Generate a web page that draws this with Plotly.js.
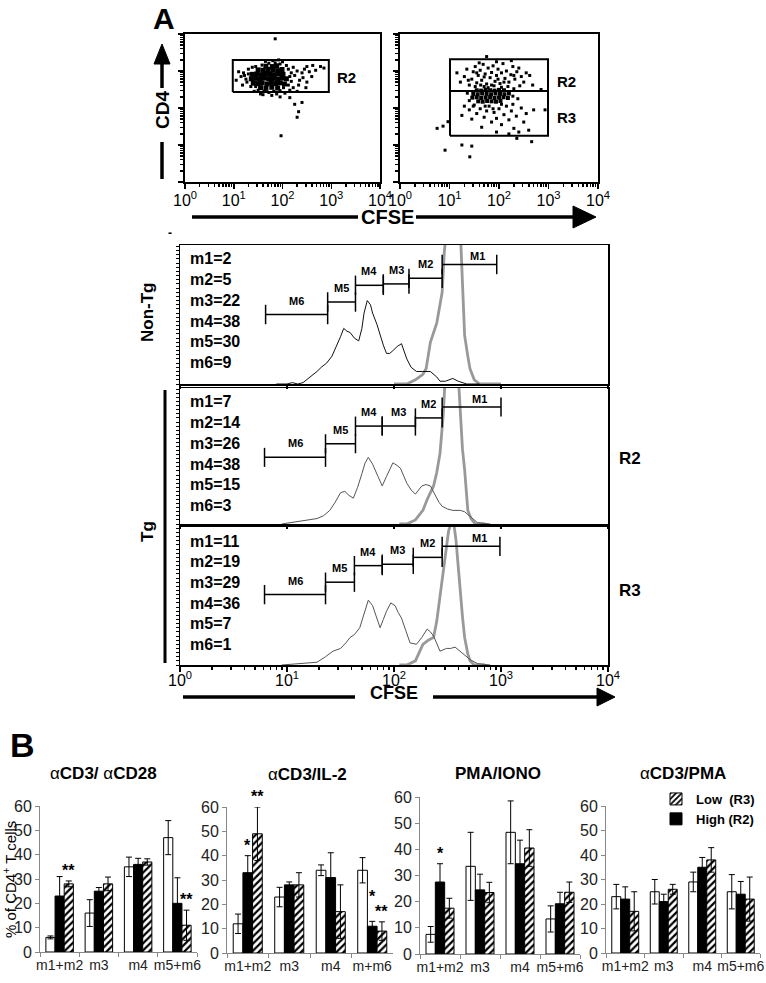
<!DOCTYPE html>
<html>
<head>
<meta charset="utf-8">
<script src="https://cdn.plot.ly/plotly-3.0.1.min.js"></script>
<style>html,body{margin:0;padding:0;background:#fff}</style>
</head>
<body>
<div id="fig" style="width:766px;height:983px"></div>
<script>
// ---------- data (CFSE / CD4 in log10 units) ----------
// dot plot, left (sorted cells, R2 only)
var dots1Core = [1.55,2.55, 1.66,2.53, 1.78,2.56, 1.90,2.54,
  1.40,2.67, 1.49,2.66, 1.58,2.68, 1.68,2.65, 1.77,2.69, 1.86,2.66, 1.95,2.68, 2.04,2.65,
  1.36,2.79, 1.45,2.80, 1.54,2.78, 1.63,2.81, 1.72,2.79, 1.81,2.80, 1.90,2.78, 1.99,2.81, 2.08,2.79,
  1.38,2.91, 1.47,2.92, 1.56,2.90, 1.65,2.93, 1.74,2.91, 1.83,2.90, 1.92,2.92, 2.01,2.91,
  1.50,3.03, 1.60,3.02, 1.70,3.04, 1.80,3.03, 1.90,3.01, 1.99,3.04,
  1.66,3.13, 1.79,3.12, 1.88,3.14];
var dots1 = [1.15,2.85, 1.20,2.95, 1.25,2.78, 1.30,3.05, 1.27,2.70, 1.22,2.88, 1.30,2.92, 1.38,3.10, 1.45,3.12,
  2.12,3.05, 2.15,2.85, 2.18,2.95, 2.22,3.10, 2.25,2.88, 2.30,3.00, 2.18,2.72, 2.12,2.62, 2.08,3.15,
  1.95,3.19, 1.85,3.22, 1.72,3.21, 1.58,3.16, 1.45,2.58, 1.50,2.48, 1.62,2.45, 1.72,2.42, 1.82,2.45,
  1.95,2.47, 2.02,2.55, 1.35,2.58, 1.42,2.45, 1.88,2.38, 1.78,2.34, 1.95,2.30, 2.05,2.40, 2.15,2.48,
  2.22,2.55, 2.35,2.75, 2.40,2.95, 2.45,3.05, 2.50,3.12, 2.55,2.98, 2.62,3.15, 2.68,3.02, 2.78,3.12,
  2.85,3.08, 2.60,2.85, 2.42,2.82, 2.33,2.62, 2.50,2.70, 1.10,2.98, 1.05,2.75, 1.18,2.62, 1.80,3.28,
  1.92,3.30, 2.00,3.25, 1.65,3.26, 2.30,2.45, 1.60,2.36,
  1.85,3.87, 2.25,2.10, 2.40,2.15, 2.33,1.90, 2.30,1.75, 1.97,1.25, 2.15,2.28, 1.55,2.38, 2.48,2.55];
// dot plot, right (R2 high / R3 low)
var dots2Core = [1.58,2.18, 1.67,2.17, 1.76,2.19, 1.85,2.18, 1.94,2.17, 2.03,2.19,
  1.46,2.28, 1.55,2.29, 1.64,2.27, 1.73,2.28, 1.82,2.29, 1.91,2.27, 2.00,2.28, 2.09,2.29, 2.18,2.27,
  1.48,2.38, 1.57,2.37, 1.66,2.39, 1.75,2.38, 1.84,2.37, 1.93,2.39, 2.02,2.38, 2.11,2.37, 2.20,2.39,
  1.55,2.48, 1.64,2.47, 1.73,2.49, 1.82,2.48, 1.91,2.47, 2.00,2.49, 2.10,2.48];
var dots2 = [1.15,2.95, 1.22,2.70, 1.30,2.85, 1.35,3.05, 1.40,2.62, 1.45,2.78, 1.48,2.98, 1.52,3.12,
  1.55,2.68, 1.58,2.88, 1.62,3.02, 1.65,2.75, 1.68,3.18, 1.72,2.92, 1.75,2.65, 1.78,3.08, 1.82,2.82,
  1.85,2.96, 1.88,3.14, 1.92,2.72, 1.95,2.88, 1.98,3.05, 2.02,2.66, 2.05,2.95, 2.08,3.20, 2.12,2.80,
  2.15,3.00, 2.20,2.70, 2.24,2.90, 2.28,3.12, 2.32,2.78, 2.36,2.98, 2.40,3.08, 2.45,2.85, 2.50,2.70,
  2.55,2.95, 2.62,2.88, 2.68,2.62, 1.38,2.75, 1.85,2.62, 2.18,2.58, 1.70,2.58, 2.42,2.60, 1.60,3.22,
  1.95,3.25, 2.25,3.28, 1.30,2.05, 1.40,1.95, 1.50,2.08, 1.55,1.85, 1.62,1.98, 1.70,1.75, 1.75,1.92,
  1.80,2.05, 1.85,1.62, 1.90,1.88, 1.95,1.72, 2.00,1.98, 2.05,1.55, 2.10,1.82, 2.15,2.05, 2.20,1.68,
  2.25,1.92, 2.30,1.45, 2.35,1.78, 2.45,2.00, 2.50,1.62, 2.55,1.85, 2.60,1.40, 2.70,1.95, 1.65,1.48,
  1.45,1.70, 1.25,1.80, 1.95,1.35, 2.40,1.35, 2.20,1.30, 2.28,2.10, 2.38,2.25,
  1.52,2.58, 1.63,2.62, 1.78,2.55, 1.90,2.60, 2.05,2.56, 2.30,2.52, 1.36,2.40, 1.40,2.20, 2.28,2.32,
  1.70,2.84, 1.98,2.78, 2.10,2.70, 1.55,2.95, 2.30,2.88, 1.48,2.05, 1.88,1.98, 2.05,2.10, 1.72,2.05,
  0.75,1.45, 0.87,1.51, 0.97,1.63, 0.91,0.86, 1.25,1.00, 1.45,0.97, 1.41,0.68, 1.75,3.39,
  2.93,1.95, 2.66,1.09, 2.36,1.18, 2.85,2.50];
// gates [xmin, xmax, ymin, ymax]
var gate1R2 = [0.98, 2.95, 2.43, 3.30];
var gate2R2 = [1.01, 2.99, 2.46, 3.32];
var gate2R3 = [1.01, 2.99, 1.25, 2.46];

// CFSE histograms: divided (thin) and control (thick) curves
var nonTgX = [0.90,1.00,1.05,1.10,1.15,1.20,1.24,1.28,1.32,1.37,1.42,1.47,1.50,1.53,1.56,1.59,1.63,1.67,1.70,1.72,1.75,1.78,1.80,1.84,1.87,1.90,1.93,1.96,1.99,2.03,2.07,2.10,2.12,2.16,2.21,2.27,2.34,2.40,2.43,2.48,2.52,2.55,2.60,2.68,2.80];
var nonTgY = [0,0,1,0,1,4,7,9,12,15,20,28,34,40,38,37,33,31,40,51,60,57,51,43,35,28,22,22,24,27,29,22,18,12,9,9,9,5,2,2,3,4,2,0,0];
var nonTgCtlX = [2.00,2.12,2.20,2.27,2.30,2.34,2.40,2.45,2.47,2.49,2.62,2.64,2.66,2.69,2.71,2.75,2.80,3.00];
var nonTgCtlY = [0,0,3,7,11,30,44,66,95,110,110,70,35,20,11,3,0,0];
var r2X = [0.95,1.03,1.15,1.28,1.34,1.40,1.45,1.50,1.54,1.58,1.62,1.66,1.70,1.73,1.76,1.80,1.85,1.89,1.93,1.99,2.03,2.06,2.12,2.16,2.20,2.23,2.26,2.30,2.34,2.38,2.42,2.45,2.50,2.55,2.62,2.66,2.72,2.78,2.90];
var r2Y = [0,1,2,4,6,10,16,23,24,21,19,27,37,45,49,44,35,28,35,45,43,41,30,25,22,25,28,29,28,22,16,13,11,10,10,9,5,1,0];
var r2CtlX = [2.05,2.12,2.20,2.27,2.31,2.34,2.37,2.40,2.43,2.46,2.48,2.60,2.62,2.64,2.66,2.69,2.72,2.76,2.85];
var r2CtlY = [0,0,3,10,18,23,28,38,52,80,110,110,80,55,40,10,4,0,0];
var r3X = [0.95,1.03,1.15,1.28,1.36,1.43,1.50,1.55,1.59,1.63,1.68,1.72,1.76,1.80,1.84,1.87,1.90,1.93,1.97,2.01,2.04,2.07,2.11,2.15,2.21,2.26,2.31,2.34,2.37,2.40,2.43,2.49,2.53,2.57,2.63,2.67,2.71,2.78,2.90];
var r3Y = [0,0.5,1,2,6,10,12,16,20,22,27,38,47,43,33,27,33,39,45,43,38,34,25,16,15,20,26,24,21,15,10,12,12,13,9,6,4,1,0];
var r3CtlX = [2.05,2.12,2.20,2.27,2.32,2.37,2.40,2.43,2.46,2.48,2.51,2.53,2.56,2.58,2.60,2.62,2.64,2.66,2.69,2.71,2.75,2.85];
var r3CtlY = [0,0,3,15,18,20,32,49,68,81,97,102,102,90,70,56,35,20,8,3,0,0];

// division gates M1..M6: start, end, marker level
var gateNames = ['M1','M2','M3','M4','M5','M6'];
var nonTgGateFrom = [2.45,2.14,1.90,1.64,1.38,0.80];
var nonTgGateTo   = [2.96,2.45,2.14,1.90,1.64,1.38];
var nonTgGateLv   = [86,76,72,71,59,50];
var r2GateFrom = [2.45,2.20,1.89,1.64,1.36,0.79];
var r2GateTo   = [3.00,2.45,2.20,1.89,1.64,1.36];
var r2GateLv   = [86,78,72,72,59,49];
var r3GateFrom = [2.45,2.18,1.89,1.63,1.36,0.79];
var r3GateTo   = [2.99,2.45,2.18,1.89,1.63,1.36];
var r3GateLv   = [86,78,73,72,60,51];
var nonTgPct = [2,5,22,38,30,9];
var r2Pct = [7,14,26,38,15,3];
var r3Pct = [11,19,29,36,7,1];

// panel B bars
var catsA = ['m1+m2','m3','m4','m5+m6'];
var catsB = ['m1+m2','m3','m4','m+m6'];
var stimTitles = ['α<b>CD3/ </b>α<b>CD28</b>', 'α<b>CD3/IL-2</b>', '<b>PMA/IONO</b>', 'α<b>CD3/PMA</b>'];
var nonTgBars = [[6,16,35,47], [12,23,34,34], [7.5,33.5,46.5,13.4], [23,25,29,25]];
var nonTgErr  = [[0.6,5.5,4,7], [4,4,2.2,5.2], [3,13,12,5], [5,5,4,7]];
var highBars  = [[23,25,36,20], [33,28,31,11], [27.5,24.5,34.5,19.2], [22,21,35,24]];
var highErr   = [[8,1.5,2.5,10.5], [7,1.2,10.2,2], [7,6,9,4.4], [5,3,4,5.2]];
var lowBars   = [[28,28,37,11], [49,28,17,9], [17.5,23.5,40.5,23.6], [17,26,38,22]];
var lowErr    = [[1.2,2.8,1.3,6.2], [11,5,11,3.8], [3.8,3.9,7,3.9], [8,2,5,9]];
var highStars = [['','','',''], ['*','','','*'], ['*','','',''], ['','','','']];
var lowStars  = [['**','','','**'], ['**','','','**'], ['','','',''], ['','','','']];

// ---------- layout helpers ----------
var F = 'Arial, "Liberation Sans", sans-serif';
var W = 766, H = 983;
function px(v) { return v / W; }
function py(v) { return 1 - v / H; }
function evens(a) { return a.filter(function (v, i) { return i % 2 === 0; }); }
function odds(a) { return a.filter(function (v, i) { return i % 2 === 1; }); }

var decades = [0, 1, 2, 3, 4];
var decadeText = decades.map(function (d) { return '10<sup>' + d + '</sup>'; });
var minorVals = [];
[0, 1, 2, 3].forEach(function (d) {
  for (var k = 2; k <= 9; k++) minorVals.push(d + Math.log10(k));
});

function logAxis(domain, labels, lw) {
  return {
    domain: domain, range: [0, 4], showgrid: false, zeroline: false,
    showline: true, mirror: true, linecolor: '#000', linewidth: lw,
    tickmode: 'array', tickvals: decades, ticktext: decadeText,
    showticklabels: labels, ticks: 'outside', ticklen: 5, tickwidth: 1.5, tickcolor: '#000',
    tickfont: {family: F, size: 16, color: '#000'},
    minor: {tickmode: 'array', tickvals: minorVals, ticks: 'outside', ticklen: 3, tickcolor: '#000'},
    fixedrange: true
  };
}

var traces = [];
var annotations = [];
var shapes = [];
var layout = {
  width: W, height: H, margin: {l: 0, r: 0, t: 0, b: 0},
  paper_bgcolor: '#fff', plot_bgcolor: '#fff',
  font: {family: F, color: '#000'},
  barmode: 'group', bargap: 0.3, bargroupgap: 0,
  showlegend: true,
  legend: {x: px(656), y: py(784), xanchor: 'left', yanchor: 'top',
           font: {family: F, size: 13, color: '#000'}, bgcolor: 'rgba(0,0,0,0)',
           tracegroupgap: 0, itemwidth: 30}
};

// ---------- A: dot plots ----------
layout.xaxis = logAxis([px(185), px(380)], true, 2);
layout.yaxis = logAxis([py(182), py(34)], false, 2);
layout.xaxis2 = logAxis([px(400), px(598)], true, 2);
layout.yaxis2 = logAxis([py(182), py(34)], false, 2);
layout.yaxis.anchor = 'x'; layout.xaxis.anchor = 'y';
layout.yaxis2.anchor = 'x2'; layout.xaxis2.anchor = 'y2';
layout.xaxis.ticklabelstandoff = -2; layout.xaxis2.ticklabelstandoff = -2;

function dotTrace(arr, size, xa, ya) {
  return {type: 'scatter', mode: 'markers', x: evens(arr), y: odds(arr), xaxis: xa, yaxis: ya,
          marker: {symbol: 'square', size: size, color: '#000', line: {width: 0}},
          showlegend: false, hoverinfo: 'skip'};
}
function gateTrace(g, xa, ya) {
  return {type: 'scatter', mode: 'lines', xaxis: xa, yaxis: ya,
          x: [g[0], g[1], g[1], g[0], g[0]], y: [g[2], g[2], g[3], g[3], g[2]],
          line: {color: '#000', width: 2}, showlegend: false, hoverinfo: 'skip'};
}
traces.push(dotTrace(dots1, 3, 'x', 'y'), dotTrace(dots1Core, 5, 'x', 'y'), gateTrace(gate1R2, 'x', 'y'));
traces.push(dotTrace(dots2, 3, 'x2', 'y2'), dotTrace(dots2Core, 4, 'x2', 'y2'),
            gateTrace(gate2R2, 'x2', 'y2'), gateTrace(gate2R3, 'x2', 'y2'));

function boldText(x, y, text, size, extra) {
  var a = {xref: 'paper', yref: 'paper', x: px(x), y: py(y), text: '<b>' + text + '</b>',
           xanchor: 'center', yanchor: 'middle',
           showarrow: false, font: {family: F, size: size, color: '#000'}};
  for (var k in extra) a[k] = extra[k];
  return a;
}
annotations.push(boldText(164, 19, 'A', 30));
annotations.push(boldText(346, 77, 'R2', 15));
annotations.push(boldText(566, 82, 'R2', 15));
annotations.push(boldText(566, 117, 'R3', 15));
annotations.push(boldText(162, 110, 'CD4', 19, {textangle: -90}));
annotations.push(boldText(387, 217, 'CFSE', 20));

function line(x0, y0, x1, y1, w) {
  return {type: 'line', xref: 'paper', yref: 'paper', x0: px(x0), y0: py(y0), x1: px(x1), y1: py(y1),
          line: {color: '#000', width: w}};
}
function tri(pts) {
  var d = 'M' + pts.map(function (p) { return px(p[0]) + ',' + py(p[1]); }).join(' L') + ' Z';
  return {type: 'path', xref: 'paper', yref: 'paper', path: d, fillcolor: '#000', line: {color: '#000', width: 1}};
}
shapes.push(line(162, 142, 162, 179, 3.5), line(162, 62, 162, 88, 3.5), tri([[162, 44], [154, 64], [170, 64]]));
shapes.push(line(192, 217, 358, 217, 3.5), line(416, 217, 574, 217, 3.5), tri([[596, 217], [573, 206], [573, 228]]));

// ---------- A: CFSE histograms ----------
var hist = [
  {xa: 'x3', ya: 'y3', top: 245, bot: 384, x: nonTgX, y: nonTgY, cx: nonTgCtlX, cy: nonTgCtlY,
   gf: nonTgGateFrom, gt: nonTgGateTo, gl: nonTgGateLv, pct: nonTgPct, thin: '#111'},
  {xa: 'x4', ya: 'y4', top: 388, bot: 524, x: r2X, y: r2Y, cx: r2CtlX, cy: r2CtlY,
   gf: r2GateFrom, gt: r2GateTo, gl: r2GateLv, pct: r2Pct, thin: '#555'},
  {xa: 'x5', ya: 'y5', top: 527, bot: 665, x: r3X, y: r3Y, cx: r3CtlX, cy: r3CtlY,
   gf: r3GateFrom, gt: r3GateTo, gl: r3GateLv, pct: r3Pct, thin: '#555'}
];
hist.forEach(function (h, i) {
  var n = i + 3;
  var xa = logAxis([px(180), px(608)], i === 2, 1.5);
  xa.anchor = 'y' + n;
  xa.ticklabelstandoff = -5;
  if (i < 2) { xa.minor = {ticks: ''}; xa.ticklen = 3; }
  layout['xaxis' + n] = xa;
  layout['yaxis' + n] = {domain: [py(h.bot), py(h.top)], range: [0, 100], anchor: 'x' + n,
    showgrid: false, zeroline: false, showline: true, mirror: true, linecolor: '#000', linewidth: 1.5,
    showticklabels: false, ticks: 'outside', ticklen: 3, tickwidth: 1, tickcolor: '#000',
    tickmode: 'linear', tick0: 0, dtick: 3, fixedrange: true};
  traces.push({type: 'scatter', mode: 'lines', x: h.cx, y: h.cy, xaxis: h.xa, yaxis: h.ya,
    line: {color: '#999', width: 2.8}, showlegend: false, hoverinfo: 'skip'});
  traces.push({type: 'scatter', mode: 'lines', x: h.x, y: h.y, xaxis: h.xa, yaxis: h.ya,
    line: {color: h.thin, width: 1}, showlegend: false, hoverinfo: 'skip'});
  var gx = [], gy = [];
  h.gf.forEach(function (s, j) {
    gx.push(s, h.gt[j], null); gy.push(h.gl[j], h.gl[j], null);
    annotations.push({xref: h.xa, yref: h.ya, x: (s + h.gt[j]) / 2, y: h.gl[j],
      xanchor: 'center', yanchor: 'bottom', xshift: j === 0 ? 8 : 0,
      yshift: j === 0 ? 0 : 6, text: '<b>' + gateNames[j] + '</b>', showarrow: false,
      font: {family: F, size: 11, color: '#000'}});
  });
  traces.push({type: 'scatter', mode: 'lines', x: gx, y: gy, xaxis: h.xa, yaxis: h.ya,
    line: {color: '#000', width: 1.5},
    error_y: {type: 'constant', value: 7, width: 0, thickness: 1.5, color: '#000'},
    showlegend: false, hoverinfo: 'skip'});
  h.pct.forEach(function (v, j) {
    annotations.push(boldText(188, h.top + 14 + j * 20.7, 'm' + (j + 1) + '=' + v, 16, {xanchor: 'left'}));
  });
});
annotations.push(boldText(147, 313, 'Non-Tg', 17, {textangle: -90}));
annotations.push(boldText(147, 532, 'Tg', 17, {textangle: -90}));
annotations.push(boldText(630, 458, 'R2', 17));
annotations.push(boldText(630, 590, 'R3', 17));
annotations.push(boldText(394, 693, 'CFSE', 18));
annotations.push(boldText(170, 233, '-', 12));
shapes.push(line(165, 390, 165, 663, 3));
shapes.push(line(183, 697, 355, 697, 3.5), line(433, 697, 598, 697, 3.5), tri([[615, 697], [597, 688], [597, 706]]));

// ---------- B: bar charts ----------
var barDom = [[40, 197, 806, 952], [227, 393, 807, 953], [420, 580, 797, 954], [606, 760, 806, 953]];
var titlePos = [[103, 773], [307, 774], [498, 773], [683, 773]];
annotations.push(boldText(22, 745, 'B', 34));
annotations.push({xref: 'paper', yref: 'paper', x: px(9), y: py(880), textangle: -90, showarrow: false,
  xanchor: 'center', yanchor: 'middle',
  text: '% of CD4<sup>+</sup> T cells', font: {family: F, size: 15, color: '#000'}});
barDom.forEach(function (d, p) {
  var n = p + 6, xa = 'x' + n, ya = 'y' + n;
  var cats = p === 1 ? catsB : catsA;
  layout['xaxis' + n] = {domain: [px(d[0]), px(d[1])], anchor: ya, type: 'category', range: [-0.5, 3.5],
    showline: true, linecolor: '#888', linewidth: 1, ticks: 'outside', tickson: 'boundaries', ticklen: 4,
    tickcolor: '#888', tickangle: 0, showgrid: false, zeroline: false,
    tickfont: {family: F, size: 14, color: '#222'}, fixedrange: true};
  layout['yaxis' + n] = {domain: [py(d[3]), py(d[2])], anchor: xa, range: [0, 60],
    tickmode: 'linear', tick0: 0, dtick: 10, showline: true, linecolor: '#888', linewidth: 1,
    ticks: 'outside', ticklen: 4, tickcolor: '#888', showgrid: false, zeroline: false,
    tickfont: {family: F, size: 16, color: '#222'}, fixedrange: true};
  var err = function (a) { return {type: 'data', array: a, visible: true, color: '#000', thickness: 1, width: 3}; };
  traces.push({type: 'bar', x: cats, y: nonTgBars[p], xaxis: xa, yaxis: ya, error_y: err(nonTgErr[p]),
    marker: {color: '#fff', line: {color: '#000', width: 1}}, showlegend: false, hoverinfo: 'skip'});
  traces.push({type: 'bar', x: cats, y: highBars[p], xaxis: xa, yaxis: ya, error_y: err(highErr[p]),
    name: '<b>High (R2)</b>', legendrank: 2, showlegend: p === 3,
    marker: {color: '#000', line: {color: '#000', width: 1}}, hoverinfo: 'skip'});
  traces.push({type: 'bar', x: cats, y: lowBars[p], xaxis: xa, yaxis: ya, error_y: err(lowErr[p]),
    name: '<b>Low\u00a0 (R3)</b>', legendrank: 1, showlegend: p === 3,
    marker: {color: '#fff', line: {color: '#000', width: 1},
             pattern: {shape: '/', fgcolor: '#000', bgcolor: '#fff', size: 5, solidity: 0.45}},
    hoverinfo: 'skip'});
  var barW = (d[1] - d[0]) / 4 * 0.7 / 3;
  [[highBars, highErr, highStars, 0], [lowBars, lowErr, lowStars, 1]].forEach(function (s) {
    s[2][p].forEach(function (st, c) {
      if (!st) return;
      // lift a "High" star when a "Low" star sits right next to it at a similar height
      var lift = (s[3] === 0 && lowStars[p][c] &&
                  Math.abs(lowBars[p][c] + lowErr[p][c] - highBars[p][c] - highErr[p][c]) < 4) ? 14 : 0;
      annotations.push({xref: xa, yref: ya, x: cats[c], y: s[0][p][c] + s[1][p][c],
        xanchor: 'center', yanchor: 'bottom', yshift: lift,
        xshift: s[3] * barW, text: '<b>' + st + '</b>', showarrow: false,
        font: {family: F, size: 16, color: '#000'}});
    });
  });
  annotations.push({xref: 'paper', yref: 'paper', x: px(titlePos[p][0]), y: py(titlePos[p][1]),
    xanchor: 'center', yanchor: 'middle',
    text: stimTitles[p], showarrow: false, font: {family: F, size: 17, color: '#000'}});
});

layout.annotations = annotations;
layout.shapes = shapes;
Plotly.newPlot('fig', traces, layout, {displayModeBar: false, staticPlot: true});
</script>
</body>
</html>
